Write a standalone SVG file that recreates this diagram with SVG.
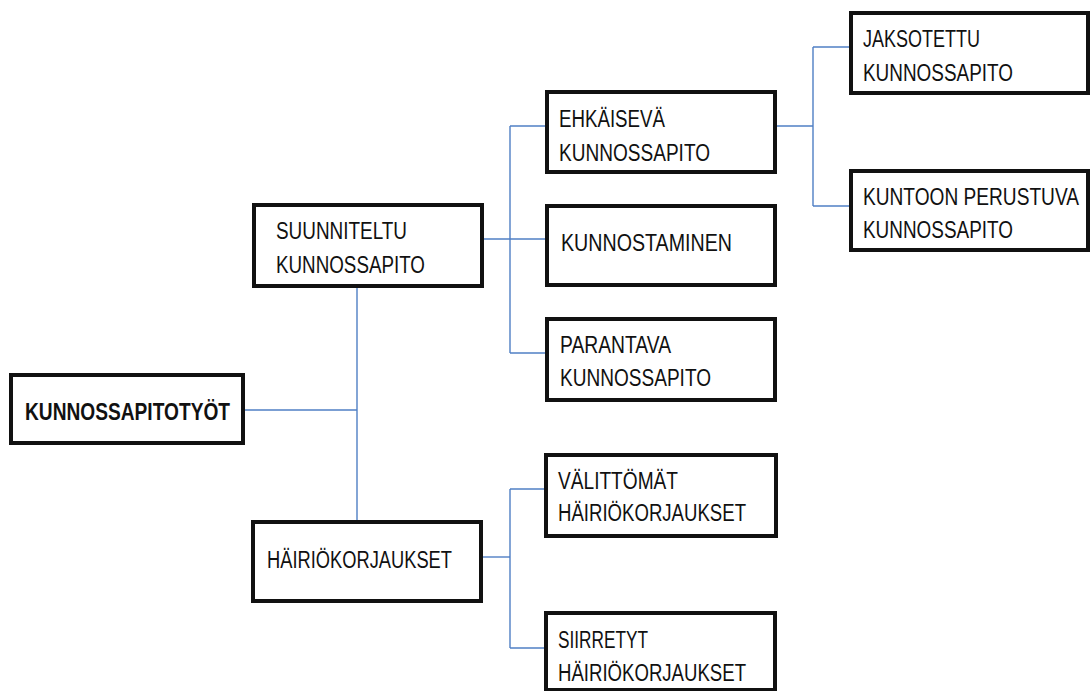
<svg xmlns="http://www.w3.org/2000/svg" width="1091" height="691" viewBox="0 0 1091 691">
  <style>
    .box { fill: #ffffff; stroke: #111111; stroke-width: 4; }
    .lbl { font-family: 'Liberation Sans', Arial, sans-serif; font-size: 23.5px; fill: #111111; }
    .main { font-weight: bold; font-size: 24.5px; }
    .link { fill: none; stroke: #4F7FC4; stroke-width: 1.4; }
  </style>
  <rect width="1091" height="691" fill="#ffffff"/>

  <!-- connectors -->
  <g id="connectors" class="link">
    <path d="M243,410 H357"/>
    <path d="M357,286 V522"/>
    <path d="M482,239 H547"/>
    <path d="M510,126 V353"/>
    <path d="M510,126 H547"/>
    <path d="M510,353 H547"/>
    <path d="M775,126 H813"/>
    <path d="M813,47 V206"/>
    <path d="M813,47 H851"/>
    <path d="M813,206 H851"/>
    <path d="M481,557 H510"/>
    <path d="M510,489 V648"/>
    <path d="M510,489 H546"/>
    <path d="M510,648 H546"/>
  </g>

  <g id="kunnossapitotyot">
    <rect class="box" x="11" y="375" width="232" height="68"/>
    <text class="lbl main" x="25" y="420" textLength="205" lengthAdjust="spacingAndGlyphs">KUNNOSSAPITOTYÖT</text>
  </g>

  <g id="suunniteltu">
    <rect class="box" x="254" y="205" width="228" height="81"/>
    <text class="lbl" x="276" y="239" textLength="131" lengthAdjust="spacingAndGlyphs">SUUNNITELTU</text>
    <text class="lbl" x="276" y="273" textLength="149" lengthAdjust="spacingAndGlyphs">KUNNOSSAPITO</text>
  </g>

  <g id="hairiokorjaukset">
    <rect class="box" x="253" y="522" width="228" height="79"/>
    <text class="lbl" x="267" y="568" textLength="185" lengthAdjust="spacingAndGlyphs">HÄIRIÖKORJAUKSET</text>
  </g>

  <g id="ehkaiseva">
    <rect class="box" x="547" y="92" width="228" height="80"/>
    <text class="lbl" x="559" y="127" textLength="106" lengthAdjust="spacingAndGlyphs">EHKÄISEVÄ</text>
    <text class="lbl" x="559" y="161" textLength="151" lengthAdjust="spacingAndGlyphs">KUNNOSSAPITO</text>
  </g>

  <g id="kunnostaminen">
    <rect class="box" x="547" y="206" width="228" height="79"/>
    <text class="lbl" x="561" y="251" textLength="171" lengthAdjust="spacingAndGlyphs">KUNNOSTAMINEN</text>
  </g>

  <g id="parantava">
    <rect class="box" x="547" y="319" width="228" height="81"/>
    <text class="lbl" x="560" y="353" textLength="111" lengthAdjust="spacingAndGlyphs">PARANTAVA</text>
    <text class="lbl" x="560" y="386" textLength="151" lengthAdjust="spacingAndGlyphs">KUNNOSSAPITO</text>
  </g>

  <g id="jaksotettu">
    <rect class="box" x="851" y="13" width="237" height="80"/>
    <text class="lbl" x="863" y="47" textLength="117" lengthAdjust="spacingAndGlyphs">JAKSOTETTU</text>
    <text class="lbl" x="863" y="81" textLength="150" lengthAdjust="spacingAndGlyphs">KUNNOSSAPITO</text>
  </g>

  <g id="kuntoon-perustuva">
    <rect class="box" x="851" y="171" width="237" height="79"/>
    <text class="lbl" x="863" y="205" textLength="216" lengthAdjust="spacingAndGlyphs">KUNTOON PERUSTUVA</text>
    <text class="lbl" x="863" y="238" textLength="150" lengthAdjust="spacingAndGlyphs">KUNNOSSAPITO</text>
  </g>

  <g id="valittomat">
    <rect class="box" x="546" y="455" width="230" height="81"/>
    <text class="lbl" x="558" y="489" textLength="120" lengthAdjust="spacingAndGlyphs">VÄLITTÖMÄT</text>
    <text class="lbl" x="558" y="521" textLength="188" lengthAdjust="spacingAndGlyphs">HÄIRIÖKORJAUKSET</text>
  </g>

  <g id="siirretyt">
    <rect class="box" x="546" y="613" width="229" height="77"/>
    <text class="lbl" x="558" y="648" textLength="90" lengthAdjust="spacingAndGlyphs">SIIRRETYT</text>
    <text class="lbl" x="558" y="681" textLength="188" lengthAdjust="spacingAndGlyphs">HÄIRIÖKORJAUKSET</text>
  </g>
</svg>
